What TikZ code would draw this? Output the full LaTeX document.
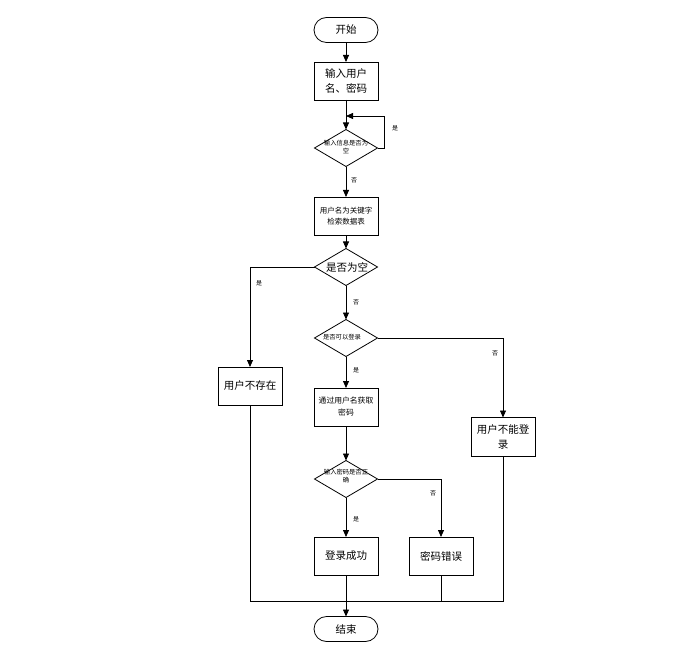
\documentclass[tikz,border=0pt]{standalone}
\usepackage{fontspec}
\setmainfont{Noto Sans CJK SC}
\usetikzlibrary{shapes.geometric,shapes.misc,arrows.meta}
\begin{document}
\begin{tikzpicture}[x=1pt,y=-1pt,
  line width=0.8pt,
  every node/.style={inner sep=0pt,outer sep=0pt},
  arr/.style={-{Triangle[length=7pt,width=6pt]}},
  term/.style={draw,rounded rectangle,minimum width=64pt,minimum height=25pt,font=\fontsize{10.5}{12}\selectfont},
  proc/.style={draw,rectangle,minimum width=64pt,minimum height=38pt,align=center},
  dia/.style={draw,diamond,minimum width=63pt,minimum height=37pt},
  dtext/.style={align=center,font=\fontsize{6.3}{8}\selectfont},
  lab/.style={font=\fontsize{6}{7}\selectfont}]
\useasboundingbox (0,0) rectangle (679,652);
\node[term] (start) at (346,30) {开始};
\node[proc,font=\fontsize{10.5}{15}\selectfont] (in) at (346,81) {输入用户\\名、密码};
\node[dia] (d1) at (346,148) {};
\node[dtext] (d1t) at (346,147) {输入信息是否为\\空};
\node[proc,font=\fontsize{7.5}{11}\selectfont] (srch) at (346,216) {用户名为关键字\\检索数据表};
\node[dia] (d2) at (346,267) {};
\node[font=\fontsize{10.5}{12}\selectfont] (d2t) at (347,267) {是否为空};
\node[dia] (d3) at (346,338) {};
\node[dtext] (d3t) at (342,337) {是否可以登录};
\node[proc,font=\fontsize{10.5}{12}\selectfont] (nouser) at (250,386) {用户不存在};
\node[proc,font=\fontsize{7.8}{12}\selectfont] (getp) at (346,407) {通过用户名获取\\密码};
\node[proc,font=\fontsize{10.5}{15}\selectfont,minimum height=39pt] (cannot) at (503,437) {用户不能登\\录};
\node[dia] (d4) at (346,479) {};
\node[dtext] (d4t) at (346,476) {输入密码是否正\\确};
\node[proc,font=\fontsize{10.5}{12}\selectfont] (ok) at (346,556) {登录成功};
\node[proc,font=\fontsize{10.5}{12}\selectfont] (wrong) at (441,556) {密码错误};
\node[term] (end) at (346,629) {结束};
\coordinate (loopin) at (346,116);
\coordinate (bl) at (250,601);
\coordinate (br) at (503,601);
\draw[arr] (start) -- (in);
\draw[arr] (in) -- (d1);
\draw[arr] (d1.east) -- ++(7,0) |- (loopin);
\node[lab] (l1) at (395,128) {是};
\draw[arr] (d1) -- (srch);
\node[lab] (l2) at (354,180) {否};
\draw[arr] (srch) -- (d2);
\draw[arr] (d2.west) -| (nouser.north);
\node[lab] (l3) at (259,283) {是};
\draw[arr] (d2) -- (d3);
\node[lab] (l4) at (356,302) {否};
\draw[arr] (d3.east) -| (cannot.north);
\node[lab] (l5) at (495,353) {否};
\draw[arr] (d3) -- (getp);
\node[lab] (l6) at (356,370) {是};
\draw[arr] (getp) -- (d4);
\draw[arr] (d4.east) -| (wrong.north);
\node[lab] (l7) at (433,493) {否};
\draw[arr] (d4) -- (ok);
\node[lab] (l8) at (356,519) {是};
\draw[arr] (ok) -- (end);
\draw (nouser.south) -- (bl) -- (br) -- (cannot.south);
\draw (wrong.south) -- (wrong.south |- bl);
\end{tikzpicture}
\end{document}
